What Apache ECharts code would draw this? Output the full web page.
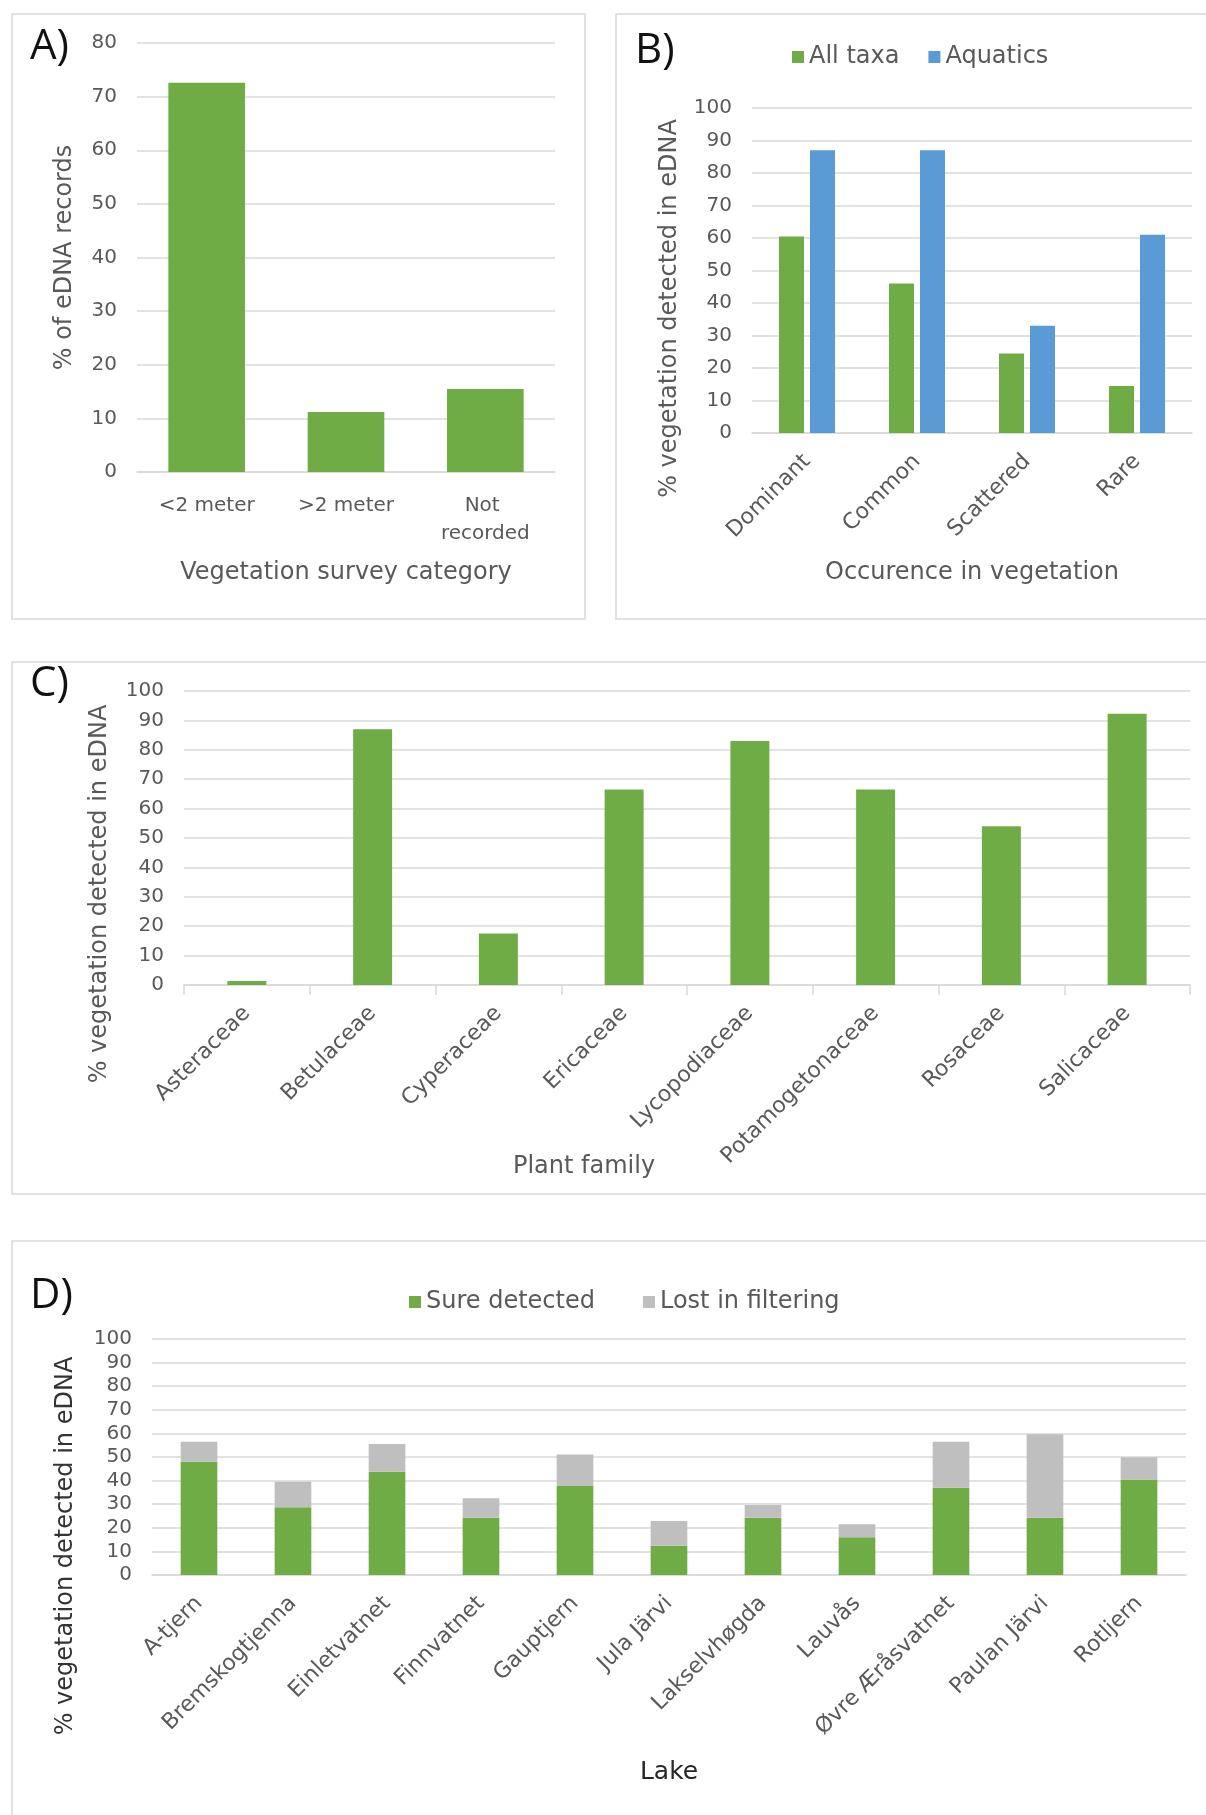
<!DOCTYPE html>
<html>
<head>
<meta charset="utf-8">
<script src="https://cdn.jsdelivr.net/npm/echarts@6/dist/echarts.min.js"></script>
<style>
  html, body { margin: 0; padding: 0; background: #fff; }
  #chart { width: 1206px; height: 1815px; }
</style>
</head>
<body>
<div id="chart"></div>
<script>
// A) vegetation survey category
const surveyCategories = ['<2 meter', '>2 meter', 'Not recorded']
const surveyPct = [72.6, 11.2, 15.5]

// B) occurrence in vegetation
const occurrence = ['Dominant', 'Common', 'Scattered', 'Rare']
const allTaxa = [60.5, 46, 24.5, 14.5]
const aquatics = [87, 87, 33, 61]

// C) plant family
const families = ['Asteraceae', 'Betulaceae', 'Cyperaceae', 'Ericaceae', 'Lycopodiaceae', 'Potamogetonaceae', 'Rosaceae', 'Salicaceae']
const familyPct = [1.4, 87, 17.5, 66.5, 83, 66.5, 54, 92.3]

// D) lakes
const lakes = ['A-tjern', 'Bremskogtjenna', 'Einletvatnet', 'Finnvatnet', 'Gauptjern', 'Jula Järvi', 'Lakselvhøgda', 'Lauvås', 'Øvre Æråsvatnet', 'Paulan Järvi', 'Rotljern']
const sureDetected = [48, 28.7, 43.8, 24.3, 37.7, 12.4, 24.3, 16, 37, 24.3, 40.5]
const lostFiltering = [8.5, 10.8, 11.7, 8.2, 13.4, 10.5, 5.4, 5.5, 19.5, 35.3, 9.4]

const GREEN = '#6fac46'
const BLUE = '#5a9bd5'
const GREY = '#bfbfbf'
const TEXT = '#595959'
const LINE = '#d9d9d9'
const FONT = '"DejaVu Sans", sans-serif'

const chart = echarts.init(document.getElementById('chart'))

function valueAxis(gridIndex, max, name, nameGap, shift, color) {
  return {
    type: 'value',
    gridIndex,
    min: 0,
    max,
    interval: 10,
    name,
    nameLocation: 'middle',
    nameGap,
    nameTextStyle: {
      color: color || TEXT, fontSize: 24, fontFamily: FONT,
      padding: [0, shift * 2, 0, 0]
    },
    axisLine: { show: false },
    axisTick: { show: false },
    axisLabel: { color: TEXT, fontSize: 20, fontFamily: FONT, margin: 20 },
    splitLine: { lineStyle: { color: LINE, width: 1.5 } }
  }
}

function categoryAxis(gridIndex, data, name, nameGap, extra) {
  return Object.assign({
    type: 'category',
    gridIndex,
    data,
    name,
    nameLocation: 'middle',
    nameGap,
    nameMoveOverlap: false,
    nameTextStyle: { color: TEXT, fontSize: 24, fontFamily: FONT },
    axisLine: { lineStyle: { color: LINE, width: 1.5 } },
    axisTick: { show: false },
    axisLabel: { color: TEXT, fontSize: 22, fontFamily: FONT, interval: 0, rotate: 45, margin: 25 }
  }, extra || {})
}

const panelTitle = (text, left, top) => ({
  text, left, top, padding: 0,
  textStyle: { fontSize: 42, fontWeight: 'normal', color: '#111', fontFamily: '"Open Sans", sans-serif' }
})

const option = {
  animation: false,
  backgroundColor: '#fff',
  title: [
    panelTitle('A)', 30, 26),
    panelTitle('B)', 635, 30),
    panelTitle('C)', 30, 663),
    panelTitle('D)', 30, 1275)
  ],
  graphic: [
    { type: 'rect', shape: { x: 12, y: 14, width: 573, height: 605 }, style: { fill: 'none', stroke: LINE, lineWidth: 1.5 } },
    { type: 'rect', shape: { x: 616, y: 14, width: 620, height: 605 }, style: { fill: 'none', stroke: LINE, lineWidth: 1.5 } },
    { type: 'rect', shape: { x: 12, y: 662, width: 1220, height: 532 }, style: { fill: 'none', stroke: LINE, lineWidth: 1.5 } },
    { type: 'rect', shape: { x: 12, y: 1241, width: 1220, height: 620 }, style: { fill: 'none', stroke: LINE, lineWidth: 1.5 } }
  ],
  legend: [
    {
      data: ['All taxa', 'Aquatics'],
      left: 787, top: 40,
      icon: 'rect', itemWidth: 12, itemHeight: 12, itemGap: 29,
      textStyle: { color: TEXT, fontSize: 24, fontFamily: FONT }
    },
    {
      data: ['Sure detected', 'Lost in filtering'],
      left: 404, top: 1285,
      icon: 'rect', itemWidth: 12, itemHeight: 12, itemGap: 48,
      textStyle: { color: TEXT, fontSize: 24, fontFamily: FONT }
    }
  ],
  grid: [
    { left: 137, top: 43, width: 418, height: 429 },
    { left: 752, top: 108, width: 440, height: 325 },
    { left: 184, top: 691, width: 1006, height: 294 },
    { left: 152, top: 1339, width: 1034, height: 236 }
  ],
  xAxis: [
    categoryAxis(0, surveyCategories, 'Vegetation survey category', 89, {
      axisLabel: { color: TEXT, fontSize: 20, fontFamily: FONT, interval: 0, margin: 20, width: 110, overflow: 'break', lineHeight: 28 }
    }),
    categoryAxis(1, occurrence, 'Occurence in vegetation', 128),
    categoryAxis(2, families, 'Plant family', 170, {
      nameTextStyle: { color: TEXT, fontSize: 24, fontFamily: FONT, padding: [0, 206, 0, 0] },
      axisTick: { show: true, length: 10, lineStyle: { color: LINE, width: 1.5 } }
    }),
    categoryAxis(3, lakes, 'Lake', 185, {
      nameTextStyle: { color: '#262626', fontSize: 25, fontFamily: FONT }
    })
  ],
  yAxis: [
    valueAxis(0, 80, '% of eDNA records', 60, 0),
    valueAxis(1, 100, '% vegetation detected in eDNA', 70, 38),
    valueAxis(2, 100, '% vegetation detected in eDNA', 72, 56),
    valueAxis(3, 100, '% vegetation detected in eDNA', 74, 89, '#333')
  ],
  series: [
    {
      name: 'eDNA records', type: 'bar', xAxisIndex: 0, yAxisIndex: 0,
      data: surveyPct, barWidth: '55%', itemStyle: { color: GREEN }
    },
    {
      name: 'All taxa', type: 'bar', xAxisIndex: 1, yAxisIndex: 1,
      data: allTaxa, barWidth: 25, barGap: '24%', itemStyle: { color: GREEN }
    },
    {
      name: 'Aquatics', type: 'bar', xAxisIndex: 1, yAxisIndex: 1,
      data: aquatics, barWidth: 25, barGap: '24%', itemStyle: { color: BLUE }
    },
    {
      name: 'Plant family', type: 'bar', xAxisIndex: 2, yAxisIndex: 2,
      data: familyPct, barWidth: '31%', itemStyle: { color: GREEN }
    },
    {
      name: 'Sure detected', type: 'bar', stack: 'lake', xAxisIndex: 3, yAxisIndex: 3,
      data: sureDetected, barWidth: '39%', itemStyle: { color: GREEN }
    },
    {
      name: 'Lost in filtering', type: 'bar', stack: 'lake', xAxisIndex: 3, yAxisIndex: 3,
      data: lostFiltering, barWidth: '39%', itemStyle: { color: GREY }
    }
  ]
}

chart.setOption(option)
</script>
</body>
</html>
